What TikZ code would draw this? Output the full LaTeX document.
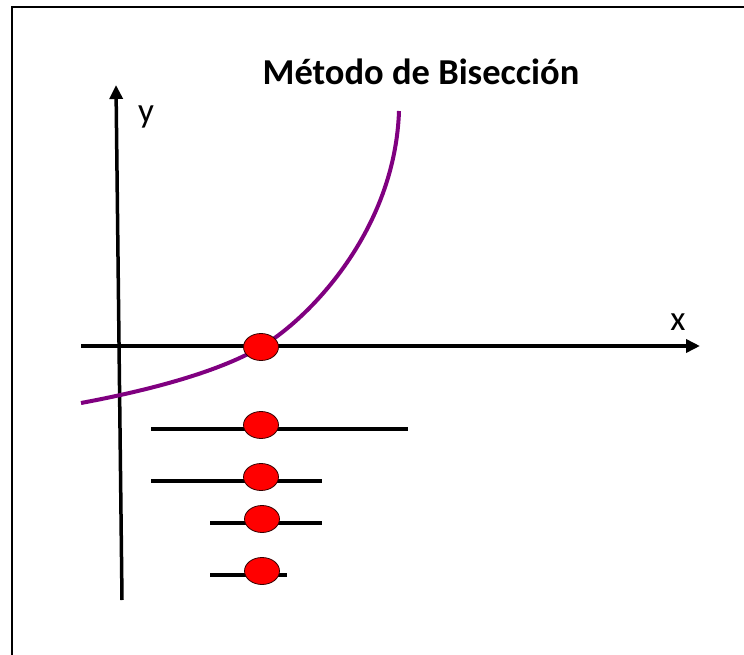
\documentclass[tikz,border=0pt]{standalone}
\usepackage{fontspec}
\setmainfont{Carlito}
\usetikzlibrary{arrows.meta,shapes.geometric}
\definecolor{curvepurple}{HTML}{800080}
\definecolor{dotred}{HTML}{FF0000}
\tikzset{
  axis/.style={line width=3.5pt,-{Triangle[length=14pt,width=13pt]}},
  seg/.style={line width=3.5pt},
  dot/.style={ellipse,draw=black!80!red,line width=0.8pt,fill=dotred,minimum width=35pt,minimum height=27pt,inner sep=0pt},
  lbl/.style={font=\fontsize{35}{40}\selectfont,inner sep=0pt},
}
\begin{document}
\begin{tikzpicture}[x=1pt,y=-1pt]
\useasboundingbox (0,0) rectangle (744,655);
% frame
\draw[line width=2pt] (12,655) -- (12,7) -- (744,7);
% title
\node[font=\fontsize{36.5}{40}\selectfont\bfseries,inner sep=0pt] (title) at (421,72) {Método de Bisección};
% axes
\coordinate (ys) at (122,600);
\coordinate (ye) at (116,85);
\coordinate (xs) at (81,346);
\coordinate (xe) at (700,346);
\draw[axis] (ys) -- (ye);
\draw[axis] (xs) -- (xe);
\node[lbl] (ylab) at (146,117) {y};
\node[lbl] (xlab) at (678,322) {x};
% curve
\draw[curvepurple,line width=4pt] (81,403) .. controls (140,392) and (215,374) .. (261,347)
  .. controls (310,318) and (395,230) .. (399,111);
% intervals
\coordinate (a1) at (151,429); \coordinate (b1) at (408,429);
\coordinate (a2) at (151,481); \coordinate (b2) at (322,481);
\coordinate (a3) at (210,523); \coordinate (b3) at (322,523);
\coordinate (a4) at (210,575); \coordinate (b4) at (287,575);
\draw[seg] (a1) -- (b1);
\draw[seg] (a2) -- (b2);
\draw[seg] (a3) -- (b3);
\draw[seg] (a4) -- (b4);
% dots
\node[dot] (r0) at (261,347) {};
\node[dot] (r1) at (261,425) {};
\node[dot] (r2) at (261,477) {};
\node[dot] (r3) at (262,519) {};
\node[dot] (r4) at (262,571) {};
\end{tikzpicture}
\end{document}
